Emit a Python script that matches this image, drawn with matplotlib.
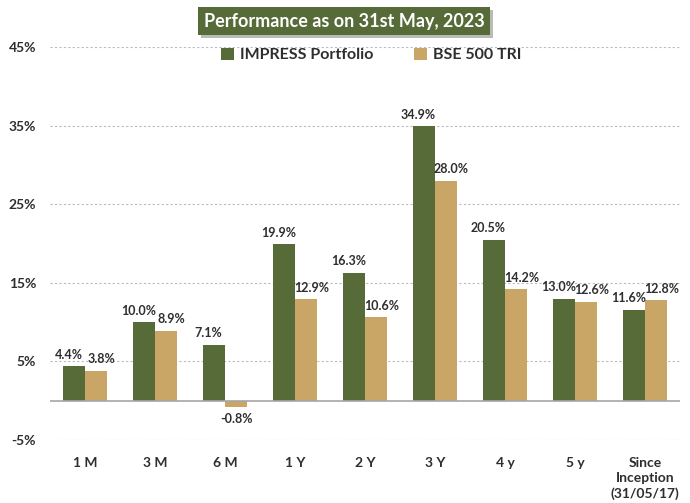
import matplotlib.pyplot as plt
import matplotlib.patheffects as pe
import numpy as np

plt.rcParams['font.family'] = ['Lato', 'DejaVu Sans']

categories = ['1 M', '3 M', '6 M', '1 Y', '2 Y', '3 Y', '4 y', '5 y', 'Since\nInception\n(31/05/17)']
impress = [4.4, 10.0, 7.1, 19.9, 16.3, 34.9, 20.5, 13.0, 11.6]
bse500 = [3.8, 8.9, -0.8, 12.9, 10.6, 28.0, 14.2, 12.6, 12.8]
yticks = [-5, 5, 15, 25, 35, 45]

green = '#566B37'
tan = '#C9A665'
txt = '#2E2E2E'

fig = plt.figure(figsize=(6.9, 5.03), dpi=100)
ax = fig.add_axes([0.0725, 0.125, 0.913, 0.7816])

x = np.arange(len(categories))
w = 0.315
b1 = ax.bar(x - w/2, impress, w, color=green, label='IMPRESS Portfolio', zorder=3)
b2 = ax.bar(x + w/2, bse500, w, color=tan, label='BSE 500 TRI', zorder=3)

for bars, vals, dx in ((b1, impress, -4), (b2, bse500, 4)):
    for r, v in zip(bars, vals):
        cx = r.get_x() + r.get_width()/2
        if v >= 0:
            ax.annotate('%.1f%%' % v, (cx, v), xytext=(dx, 4), textcoords='offset points',
                        ha='center', va='bottom', fontsize=9, fontweight='bold', color=txt)
        else:
            ax.annotate('%.1f%%' % v, (cx, v), xytext=(0, -4), textcoords='offset points',
                        ha='center', va='top', fontsize=9, fontweight='bold', color=txt)

ax.set_xlim(-0.5, len(categories) - 0.5)
ax.set_ylim(-5, 45)
ax.set_yticks(yticks)
ax.set_yticklabels(['%d%%' % t for t in yticks], fontsize=10, fontweight='bold', color=txt)
ax.set_xticks(x)
ax.set_xticklabels(categories, fontsize=10, fontweight='bold', color=txt, linespacing=1.3)
ax.tick_params(length=0, pad=10)
ax.tick_params(axis='x', pad=12)
ax.grid(axis='y', linestyle=(0, (2, 2)), color='#BBBBBB', linewidth=0.8, zorder=0)
ax.axhline(0, color='#A6A6A6', linewidth=1.2, zorder=4)
for s in ax.spines.values():
    s.set_visible(False)

fig.text(0.4985, 0.958, 'Performance as on 31st May, 2023', ha='center', va='center',
         fontsize=13, fontweight='bold', color='white',
         bbox=dict(boxstyle='square,pad=0.3', facecolor=green, edgecolor='none',
                   path_effects=[pe.withSimplePatchShadow(offset=(2, -2), alpha=0.3)]))

ax.legend(loc='upper center', bbox_to_anchor=(0.51, 1.035), ncol=2, frameon=False,
          prop={'size': 11.5, 'weight': 'bold'}, handlelength=0.8, handleheight=0.8,
          handletextpad=0.4, columnspacing=2.5, labelcolor=txt)

plt.savefig('out.png', dpi=100)
